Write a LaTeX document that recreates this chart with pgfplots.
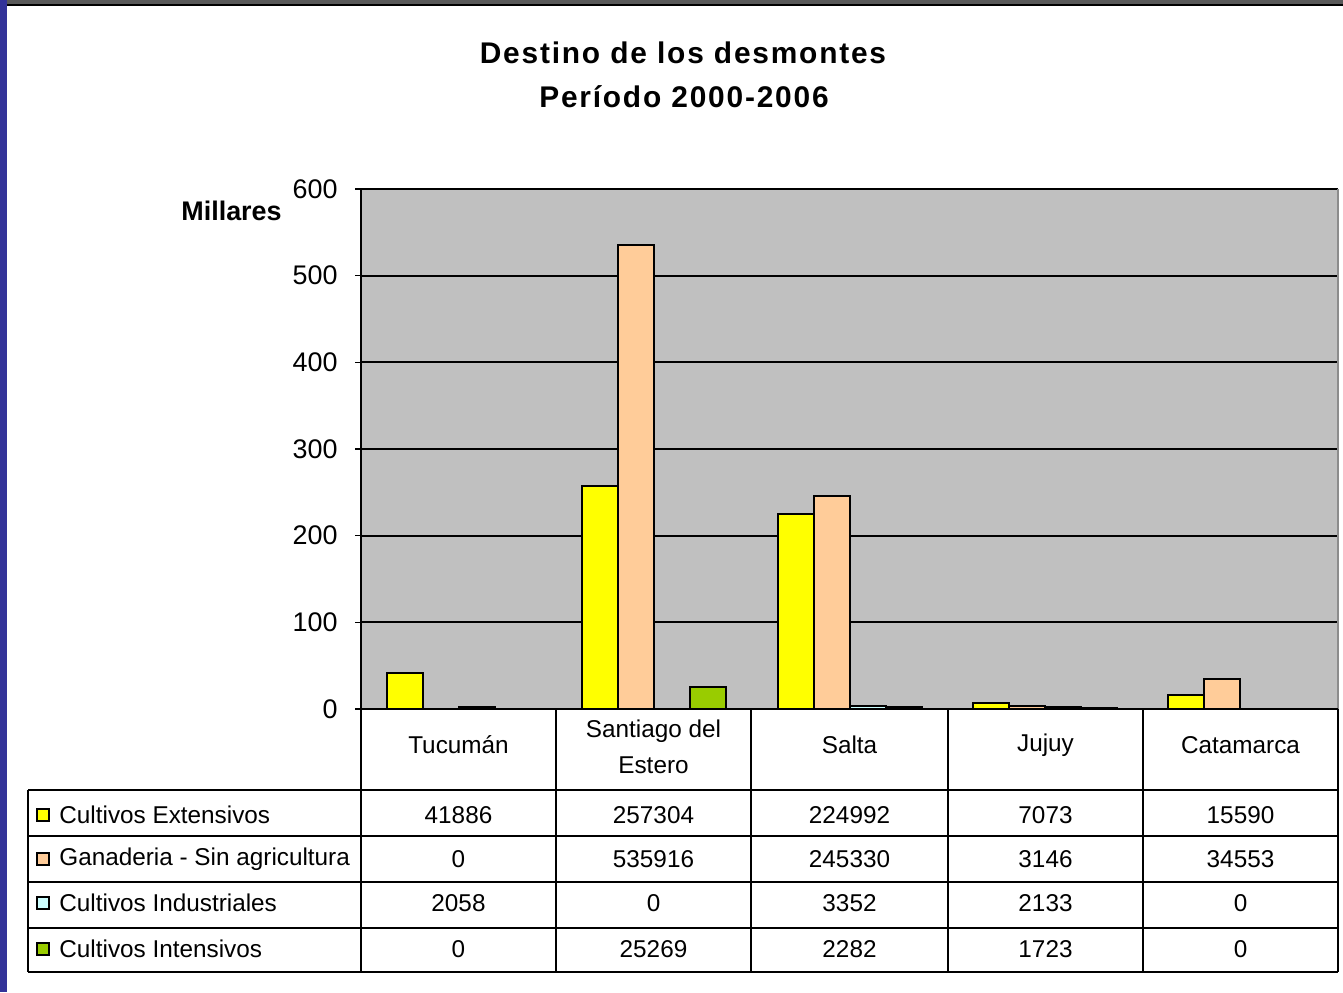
\documentclass[border=0pt]{standalone}
\usepackage{pgfplots}
\pgfplotsset{compat=1.18}
\usepackage{pgfplotstable}
\usepackage{fontspec}
\setmainfont{Liberation Sans}
\newfontfamily\titlefont[LetterSpace=6]{Liberation Sans}
\definecolor{cExt}{HTML}{FFFF00}
\definecolor{cGan}{HTML}{FFCC99}
\definecolor{cInd}{HTML}{CCFFFF}
\definecolor{cInt}{HTML}{99CC00}
\definecolor{plotgray}{HTML}{C0C0C0}
\definecolor{frameblue}{HTML}{333399}
\pgfplotstableread{
x ext gan ind int
0.5 41886 0 2058 0
1.5 257304 535916 0 25269
2.5 224992 245330 3352 2282
3.5 7073 3146 2133 1723
4.5 15590 34553 0 0
}\datatable
\begin{document}
\begin{tikzpicture}[x=0.5bp,y=0.5bp]
\useasboundingbox (0,0) rectangle (1343,992);
\fill[white] (0,0) rectangle (1343,992);
\begin{axis}[
  at={(180.5bp,141.5bp)}, anchor=south west,
  scale only axis, width=488.5bp, height=260bp,
  xmin=0, xmax=5, ymin=0, ymax=600,
  ybar=0pt, bar width=18bp,
  axis background/.style={fill=plotgray},
  axis lines*=left,
  axis line style={black, line width=1bp},
  xtick=\empty,
  ytick={0,100,...,600},
  tick align=outside,
  major tick length=3bp,
  ytick style={black, line width=0.8bp},
  ymajorgrids,
  grid style={black, line width=0.9bp},
  yticklabel style={font=\fontsize{13.5}{15}\selectfont, inner sep=0pt, xshift=-8.5bp},
  /pgf/number format/assume math mode=true,
  clip=false,
]
\addplot[fill=cExt, draw=black, line width=1bp] table[x=x, y expr=\thisrow{ext}/1000] {\datatable};
\addplot[fill=cGan, draw=black, line width=1bp] table[x=x, y expr=\thisrow{gan}/1000] {\datatable};
\addplot[fill=cInd, draw=black, line width=1bp] table[x=x, y expr=\thisrow{ind}/1000] {\datatable};
\addplot[fill=cInt, draw=black, line width=1bp] table[x=x, y expr=\thisrow{int}/1000] {\datatable};
\end{axis}
% frame of the slide
\fill[frameblue] (0,0) rectangle (7,992);
\fill[black!65] (7,988) rectangle (1343,992);
\fill[black] (7,985.5) rectangle (1343,988);
% right edge of plot area
\draw[black!45, line width=0.6bp] (1338,283) -- (1338,803);
% title
\node[font=\titlefont\bfseries\fontsize{15}{17}\selectfont] at (683,939) {Destino de los desmontes};
\node[font=\titlefont\bfseries\fontsize{15}{17}\selectfont] at (684,895) {Período 2000-2006};
\node[font=\bfseries\fontsize{13.5}{15}\selectfont, anchor=east, inner sep=0pt] at (282,781) {Millares};
% data table grid
\begin{scope}[line width=1bp]
\draw (361,283) -- (1338,283);
\foreach \yy in {202,156,110,64,20} \draw (28,\yy) -- (1338,\yy);
\foreach \xx in {361,556,751,948,1143,1338} \draw (\xx,283) -- (\xx,20);
\draw (28,202) -- (28,20);
\end{scope}
\begin{scope}[every node/.style={font=\fontsize{12.2}{14}\selectfont, inner sep=0pt}]
\node at (458.5,247) {Tucumán};
\node[align=center, font=\fontsize{12.2}{18}\selectfont] at (653.5,245) {Santiago del\\Estero};
\node at (849.5,247) {Salta};
\node at (1045.5,247) {Jujuy};
\node at (1240.5,247) {Catamarca};
\foreach \c/\yy/\lab in {ext/177/Cultivos Extensivos,gan/133/Ganaderia - Sin agricultura,ind/89/Cultivos Industriales,int/43/Cultivos Intensivos} {
  \node[anchor=west] at (59,\yy) {\lab};
  \foreach \r/\xx in {0/458.5,1/653.5,2/849.5,3/1045.5,4/1240.5} {
    \pgfplotstablegetelem{\r}{\c}\of\datatable
    \node at (\xx,\yy) {\pgfplotsretval};
  }
}
\end{scope}
\draw[fill=cExt, line width=0.8bp] (37,171) rectangle (49,183);
\draw[fill=cGan, line width=0.8bp] (37,127) rectangle (49,139);
\draw[fill=cInd, line width=0.8bp] (37,83) rectangle (49,95);
\draw[fill=cInt, line width=0.8bp] (37,37) rectangle (49,49);
\end{tikzpicture}
\end{document}
